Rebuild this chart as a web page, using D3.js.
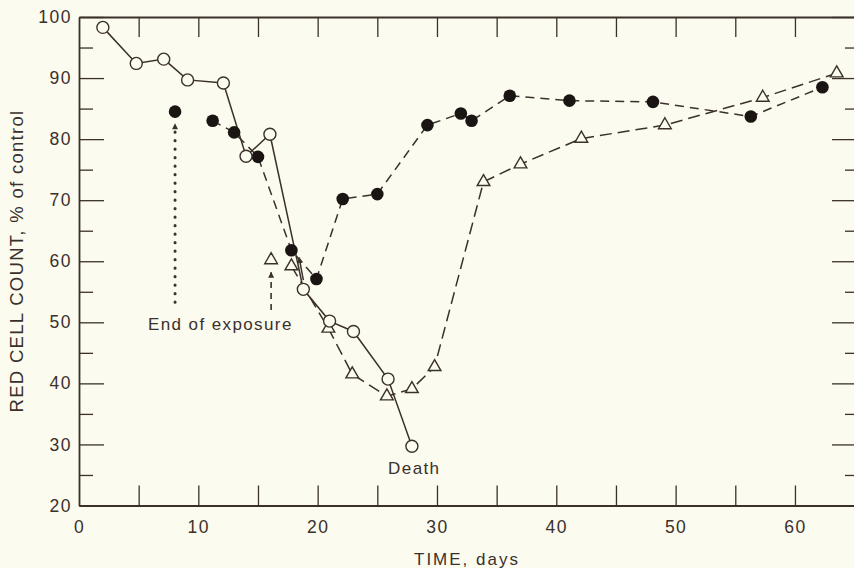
<!DOCTYPE html>
<html>
<head>
<meta charset="utf-8">
<script src="https://cdn.jsdelivr.net/npm/d3@7"></script>
<style>
  html, body { margin: 0; padding: 0; background: #fcfbef; }
  svg { display: block; }
  text { font-family: "Liberation Sans", Arial, Helvetica, sans-serif; fill: #3a302c; }
</style>
</head>
<body>
<svg id="chart" width="854" height="568"></svg>
<script>
// ---- data ----
const openDays   = [2.0, 4.8, 7.1, 9.1, 12.1, 14.0, 16.0, 18.8, 21.0, 23.0, 25.9, 27.9];
const openValues = [98.3, 92.4, 93.1, 89.7, 89.2, 77.2, 80.8, 55.4, 50.2, 48.5, 40.7, 29.7];

const filledDays   = [11.2, 13.0, 15.0, 17.8, 19.9, 22.1, 25.0, 29.2, 32.0, 32.9, 36.1, 41.1, 48.1, 56.3, 62.3];
const filledValues = [83.0, 81.1, 77.1, 61.8, 57.1, 70.2, 71.0, 82.3, 84.2, 83.0, 87.1, 86.3, 86.1, 83.7, 88.5];
const filledLoneDay = [8.05];
const filledLoneValue = [84.5];

const triDays   = [17.8, 20.9, 22.9, 25.8, 27.9, 29.8, 33.9, 37.0, 42.1, 49.1, 57.3, 63.5];
const triValues = [59.2, 49.0, 41.5, 37.9, 39.1, 42.7, 73.0, 75.9, 80.1, 82.3, 86.8, 90.8];
const triLoneDay = [16.1];
const triLoneValue = [60.2];

const yMajorTicks = [20, 30, 40, 50, 60, 70, 80, 90, 100];
const yMinorTicks = [25, 35, 45, 55, 65, 75, 85, 95];
const xLabelTicks = [0, 10, 20, 30, 40, 50, 60];
const xAllTicks   = [5, 10, 15, 20, 25, 30, 35, 40, 45, 50, 55, 60];

const xTitle = "TIME, days";
const yTitle = "RED CELL COUNT, % of control";
const exposureLabel = "End of exposure";
const deathLabel = "Death";

(function () {
// ---- layout ----
const ink = "#3a302c";
const paper = "#fcfbef";
const svg = d3.select("#chart");
svg.append("rect").attr("width", 854).attr("height", 568).attr("fill", paper);

const mLeft = 79, mRight = 857, mTop = 17, mBottom = 505.5;
const x = d3.scaleLinear().domain([0, 65.2]).range([mLeft, mRight]);
const y = d3.scaleLinear().domain([20, 100]).range([mBottom, mTop]);

const defs = svg.append("defs");
defs.append("marker").attr("id", "arrow").attr("viewBox", "0 0 10 10")
  .attr("refX", 9).attr("refY", 5).attr("markerWidth", 9).attr("markerHeight", 6)
  .attr("markerUnits", "userSpaceOnUse").attr("orient", "auto")
  .append("path").attr("d", "M0,0 L10,5 L0,10 Z").attr("fill", ink);

function styleAxis(g, labels) {
  g.select(".domain").attr("stroke", ink).attr("stroke-width", 1.8);
  g.selectAll(".tick line").attr("stroke", ink).attr("stroke-width", 1.3);
  g.selectAll(".tick text").attr("font-size", 17.5).attr("letter-spacing", 1.5)
    .attr("fill", ink).attr("font-family", "Liberation Sans, Arial, sans-serif");
  if (!labels) g.selectAll(".tick text").remove();
}

// left axis
svg.append("g").attr("transform", `translate(${mLeft},0)`)
  .call(d3.axisLeft(y).tickValues(yMajorTicks).tickSize(-25).tickSizeOuter(0).tickPadding(7).tickFormat(d3.format("d")))
  .call(g => styleAxis(g, true));
svg.append("g").attr("transform", `translate(${mLeft},0)`)
  .call(d3.axisLeft(y).tickValues(yMinorTicks).tickSize(-14).tickSizeOuter(0))
  .call(g => { styleAxis(g, false); g.select(".domain").remove(); });

// right axis
svg.append("g").attr("transform", `translate(${mRight},0)`)
  .call(d3.axisRight(y).tickValues(yMajorTicks).tickSize(-25).tickSizeOuter(0))
  .call(g => styleAxis(g, false));
svg.append("g").attr("transform", `translate(${mRight},0)`)
  .call(d3.axisRight(y).tickValues(yMinorTicks).tickSize(-12).tickSizeOuter(0))
  .call(g => { styleAxis(g, false); g.select(".domain").remove(); });

// top axis
svg.append("g").attr("transform", `translate(0,${mTop})`)
  .call(d3.axisTop(x).tickValues(xAllTicks).tickSize(-20).tickSizeOuter(0))
  .call(g => styleAxis(g, false));

// bottom axis
svg.append("g").attr("transform", `translate(0,${mBottom})`)
  .call(d3.axisBottom(x).tickValues(xAllTicks).tickSize(-20).tickSizeOuter(0))
  .call(g => styleAxis(g, false));
svg.append("g").attr("transform", `translate(0,${mBottom})`)
  .call(d3.axisBottom(x).tickValues(xLabelTicks).tickSize(0).tickSizeOuter(0).tickPadding(15).tickFormat(d3.format("d")))
  .call(g => { styleAxis(g, true); g.select(".domain").remove(); });

// titles
svg.append("text").attr("x", (mLeft + mRight) / 2 - 1).attr("y", 565)
  .attr("text-anchor", "middle").attr("font-size", 17).attr("letter-spacing", 2).text(xTitle);
svg.append("text").attr("transform", `translate(23,${261}) rotate(-90)`)
  .attr("text-anchor", "middle").attr("font-size", 18.5).attr("letter-spacing", 1.3).text(yTitle);

// series
const zip = (a, b) => a.map((d, i) => [d, b[i]]);
const line = d3.line().x(d => x(d[0])).y(d => y(d[1]));
const openData = zip(openDays, openValues);
const filledData = zip(filledDays, filledValues);
const triData = zip(triDays, triValues);

svg.append("path").datum(triData).attr("d", line).attr("fill", "none")
  .attr("stroke", ink).attr("stroke-width", 1.5).attr("stroke-dasharray", "12,6");
svg.append("path").datum(filledData).attr("d", line).attr("fill", "none")
  .attr("stroke", ink).attr("stroke-width", 1.5).attr("stroke-dasharray", "9,6");
svg.append("path").datum(openData).attr("d", line).attr("fill", "none")
  .attr("stroke", ink).attr("stroke-width", 1.5);

// annotations: arrows
const dotArrow = { day: filledLoneDay[0], from: 53.3, to: 82.0 };
svg.append("line").attr("x1", x(dotArrow.day)).attr("x2", x(dotArrow.day))
  .attr("y1", y(dotArrow.from)).attr("y2", y(dotArrow.to + 0.5))
  .attr("stroke", ink).attr("stroke-width", 3).attr("stroke-linecap", "round")
  .attr("stroke-dasharray", "0.1,8.4").attr("marker-end", "url(#arrow)");
const dashArrow = { day: triLoneDay[0], from: 52.0, to: 58.2 };
svg.append("line").attr("x1", x(dashArrow.day)).attr("x2", x(dashArrow.day))
  .attr("y1", y(dashArrow.from)).attr("y2", y(dashArrow.to))
  .attr("stroke", ink).attr("stroke-width", 1.6)
  .attr("stroke-dasharray", "6,5").attr("marker-end", "url(#arrow)");
const smallArrow = { d1: 18.8, v1: 56.9, d2: 18.45, v2: 60.6 };
svg.append("line").attr("x1", x(smallArrow.d1)).attr("y1", y(smallArrow.v1))
  .attr("x2", x(smallArrow.d2)).attr("y2", y(smallArrow.v2))
  .attr("stroke", ink).attr("stroke-width", 1.5).attr("marker-end", "url(#arrow)");

// markers
const triSym = d3.symbol().type(d3.symbolTriangle).size(70);
svg.selectAll(".tri").data(triData.concat(zip(triLoneDay, triLoneValue))).join("path")
  .attr("transform", d => `translate(${x(d[0])},${y(d[1])})`)
  .attr("d", triSym).attr("fill", paper).attr("stroke", ink).attr("stroke-width", 1.4);
svg.selectAll(".filled").data(filledData.concat(zip(filledLoneDay, filledLoneValue))).join("circle")
  .attr("cx", d => x(d[0])).attr("cy", d => y(d[1])).attr("r", 6.3).attr("fill", "#1a1412");
svg.selectAll(".open").data(openData).join("circle")
  .attr("cx", d => x(d[0])).attr("cy", d => y(d[1])).attr("r", 6)
  .attr("fill", paper).attr("stroke", ink).attr("stroke-width", 1.4);

// text labels
svg.append("text").attr("x", x(11.85)).attr("y", y(48.7)).attr("text-anchor", "middle")
  .attr("font-size", 17).attr("letter-spacing", 1.4).text(exposureLabel);
svg.append("text").attr("x", x(28.1)).attr("y", y(25.2)).attr("text-anchor", "middle")
  .attr("font-size", 17).attr("letter-spacing", 1.4).text(deathLabel);
})();
</script>
</body>
</html>
